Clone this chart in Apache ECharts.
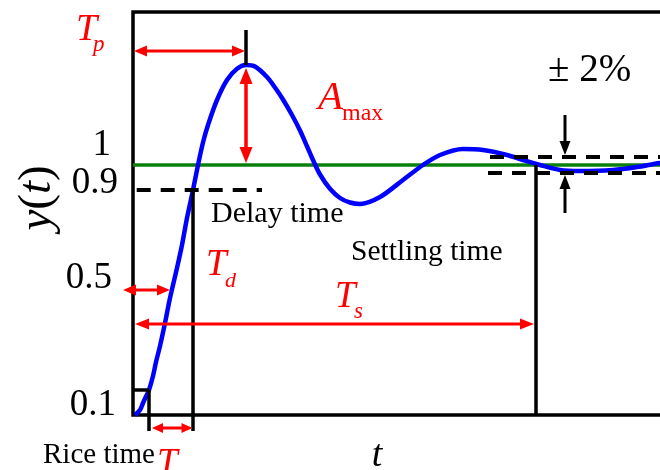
<!DOCTYPE html>
<html>
<head>
<meta charset="utf-8">
<script src="https://cdn.jsdelivr.net/npm/echarts@6/dist/echarts.min.js"></script>
<style>
  html, body { margin: 0; padding: 0; background: #fff; }
  #chart { width: 660px; height: 470px; }
</style>
</head>
<body>
<div id="chart"></div>
<script>
// Step response y(t) of an under-damped second order system
const timePoints = [0.2, 0.7, 1.0, 1.3, 1.6, 2.0, 2.3, 2.7, 3.2, 3.7, 4.4, 4.9, 5.4, 6.0, 6.5, 7.0, 7.5, 8.4, 9.4, 10.4, 11.3, 12.2, 13.4, 14.2, 15.0, 15.9, 16.7, 17.4, 18.0, 18.7, 19.7, 20.7, 21.7, 22.7, 24.7, 27.0, 29.0, 30.7, 33.0, 35.0, 37.4, 39.0, 40.7, 42.7, 44.7, 48.0, 50.4, 52.7, 55.0];
const responseValues = [0, 0.02, 0.048, 0.074, 0.10, 0.156, 0.212, 0.276, 0.368, 0.468, 0.588, 0.68, 0.788, 0.90, 1.00, 1.09, 1.16, 1.26, 1.34, 1.385, 1.40, 1.394, 1.352, 1.31, 1.262, 1.20, 1.138, 1.075, 1.02, 0.962, 0.905, 0.868, 0.85, 0.844, 0.872, 0.94, 1.00, 1.04, 1.064, 1.06, 1.04, 1.02, 1.00, 0.98, 0.976, 0.98, 0.992, 1.008, 1.016];

// y-axis reference levels and their labels
const levelValues = [1, 0.9, 0.5, 0.1];
const levelLabels = ['1', '0.9', '0.5', '0.1'];

// characteristic times and levels
const steadyValue = 1;
const riseStartTime = 1.6;
const delayTime = 6.0;
const peakTime = 11.3;
const peakValue = 1.40;
const settlingTime = 40.3;
const bandUpper = 1.032;
const bandLower = 0.968;

const tMax = 55;
const yMax = 1.612;

const RED = '#ff0000';
const BLACK = '#000000';
const SERIF = '"Liberation Serif", "Times New Roman", serif';

// label nudges (px) for the level labels, right-aligned
const levelLabelNudge = [[-22, -20], [-15, -7], [-21, -12], [-17, 15]];

function seg(a, b, color, width, dash) {
  return {
    type: 'line',
    shape: { x1: a[0], y1: a[1], x2: b[0], y2: b[1] },
    style: { stroke: color, lineWidth: width, lineDash: dash || null, lineCap: 'butt' }
  };
}

function head(tip, from, len, half, color) {
  const dx = tip[0] - from[0], dy = tip[1] - from[1];
  const d = Math.hypot(dx, dy) || 1;
  const ux = dx / d, uy = dy / d;
  const bx = tip[0] - ux * len, by = tip[1] - uy * len;
  return {
    type: 'polygon',
    shape: { points: [tip, [bx - uy * half, by + ux * half], [bx + uy * half, by - ux * half]] },
    style: { fill: color, stroke: null }
  };
}

// arrow from a to b; both = heads at both ends
function arrow(a, b, both, color, width, len, half) {
  const dx = b[0] - a[0], dy = b[1] - a[1];
  const d = Math.hypot(dx, dy) || 1;
  const ux = dx / d, uy = dy / d;
  const s = both ? [a[0] + ux * (len - 1), a[1] + uy * (len - 1)] : a;
  const e = [b[0] - ux * (len - 1), b[1] - uy * (len - 1)];
  const kids = [seg(s, e, color, width), head(b, a, len, half, color)];
  if (both) kids.push(head(a, b, len, half, color));
  return kids;
}

function txt(x, y, text, size, color, opts) {
  opts = opts || {};
  return {
    type: 'text',
    x: x, y: y,
    style: {
      text: text,
      fill: color,
      font: (opts.italic ? 'italic ' : '') + size + 'px ' + SERIF,
      align: opts.align || 'left',
      verticalAlign: 'middle'
    }
  };
}

const chart = echarts.init(document.getElementById('chart'), null, { renderer: 'canvas' });

const option = {
  backgroundColor: '#ffffff',
  animation: false,
  grid: {
    left: 133, top: 12, width: 550, bottom: 55,
    outerBoundsMode: 'none',
    show: true, borderColor: BLACK, borderWidth: 3.5, backgroundColor: 'transparent'
  },
  xAxis: { type: 'value', min: 0, max: tMax, show: false },
  yAxis: { type: 'value', min: 0, max: yMax, show: false },
  series: [
    {
      // steady-state level
      type: 'custom',
      z: 1,
      clip: false,
      silent: true,
      data: [[0, 0]],
      renderItem: function (params, api) {
        return {
          type: 'group',
          children: [seg(api.coord([0, steadyValue]), api.coord([tMax, steadyValue]), '#0a800a', 3.5)]
        };
      }
    },
    {
      type: 'line',
      z: 2,
      data: timePoints.map((t, i) => [t, responseValues[i]]),
      smooth: 0.3,
      showSymbol: false,
      silent: true,
      lineStyle: { color: '#0000ff', width: 4.5 }
    },
    {
      // annotations: reference lines, arrows and labels
      type: 'custom',
      z: 3,
      clip: false,
      silent: true,
      data: [[0, 0]],
      renderItem: function (params, api) {
        const c = (t, v) => api.coord([t, v]);
        const kids = [];
        const dash = [14, 10];

        // 0.9 reference (dashed) and ±2% band
        kids.push(seg(c(0.37, levelValues[1]), c(12.9, levelValues[1]), BLACK, 4, dash));
        kids.push(seg(c(35.7, bandUpper), c(tMax, bandUpper), BLACK, 4, dash));
        kids.push(seg(c(35.5, bandLower), c(tMax, bandLower), BLACK, 4, dash));

        // time markers
        kids.push(seg(c(0, levelValues[3]), c(riseStartTime, levelValues[3]), BLACK, 3.5));
        kids.push(seg(c(riseStartTime, levelValues[3]), c(riseStartTime, -0.064), BLACK, 3.5));
        kids.push(seg(c(delayTime, levelValues[1]), c(delayTime, -0.064), BLACK, 3.5));
        kids.push(seg(c(peakTime, peakValue), c(peakTime, 1.54), BLACK, 3.5));
        kids.push(seg(c(settlingTime, steadyValue), c(settlingTime, 0), BLACK, 3.5));

        // red dimension arrows
        kids.push(...arrow(c(0.1, 1.456), c(peakTime - 0.1, 1.456), true, RED, 3, 13, 5.5));
        kids.push(...arrow(c(peakTime, peakValue - 0.012), c(peakTime, steadyValue + 0.008), true, RED, 3.5, 16, 6.5));
        kids.push(...arrow(c(-1.0, levelValues[2]), c(3.7, levelValues[2]), true, RED, 3, 13, 5.5));
        kids.push(...arrow(c(0.2, 0.364), c(settlingTime - 0.2, 0.364), true, RED, 3, 14, 5.5));
        kids.push(...arrow(c(riseStartTime + 0.3, -0.052), c(delayTime - 0.05, -0.052), true, RED, 3, 11, 5));

        // ±2% pointers
        kids.push(...arrow(c(43.2, 1.2), c(43.2, bandUpper + 0.008), false, BLACK, 3, 14, 5.5));
        kids.push(...arrow(c(43.2, 0.808), c(43.2, bandLower - 0.008), false, BLACK, 3, 14, 5.5));

        // level labels
        levelValues.forEach((v, i) => {
          const p = c(0, v);
          kids.push(txt(p[0] + levelLabelNudge[i][0], p[1] + levelLabelNudge[i][1], levelLabels[i], 37, BLACK, { align: 'right' }));
        });

        return { type: 'group', children: kids };
      }
    }
  ],
  graphic: [
    // axis titles
    {
      type: 'text', x: 38, y: 198, rotation: Math.PI / 2,
      style: {
        text: '{i|y}{n|(}{i|t}{n|)}', align: 'center', verticalAlign: 'middle', fill: BLACK,
        rich: {
          i: { font: 'italic 47px ' + SERIF, fill: BLACK },
          n: { font: '47px ' + SERIF, fill: BLACK }
        }
      }
    },
    { type: 'text', x: 377, y: 456, style: { text: 't', font: 'italic 38px ' + SERIF, fill: BLACK, align: 'center', verticalAlign: 'middle' } },

    // text notes
    { type: 'text', x: 43, y: 455, style: { text: 'Rice time', font: '29px ' + SERIF, fill: BLACK, verticalAlign: 'middle' } },
    { type: 'text', x: 157, y: 464, style: { text: 'T', font: 'italic 37px ' + SERIF, fill: RED, verticalAlign: 'middle' } },
    { type: 'text', x: 211, y: 214, style: { text: 'Delay time', font: '30px ' + SERIF, fill: BLACK, verticalAlign: 'middle' } },
    { type: 'text', x: 351, y: 252, style: { text: 'Settling time', font: '29.5px ' + SERIF, fill: BLACK, verticalAlign: 'middle' } },
    { type: 'text', x: 548, y: 71, style: { text: '± 2%', font: '39px ' + SERIF, fill: BLACK, verticalAlign: 'middle' } },

    // Tp
    { type: 'text', x: 76, y: 30, style: { text: 'T', font: 'italic 38px ' + SERIF, fill: RED, verticalAlign: 'middle' } },
    { type: 'text', x: 93, y: 45, style: { text: 'p', font: 'italic 23px ' + SERIF, fill: RED, verticalAlign: 'middle' } },
    // Amax
    { type: 'text', x: 318, y: 98, style: { text: 'A', font: 'italic 41px ' + SERIF, fill: RED, verticalAlign: 'middle' } },
    { type: 'text', x: 342, y: 114, style: { text: 'max', font: '24px ' + SERIF, fill: RED, verticalAlign: 'middle' } },
    // Td
    { type: 'text', x: 206, y: 265, style: { text: 'T', font: 'italic 37px ' + SERIF, fill: RED, verticalAlign: 'middle' } },
    { type: 'text', x: 225, y: 281, style: { text: 'd', font: 'italic 22px ' + SERIF, fill: RED, verticalAlign: 'middle' } },
    // Ts
    { type: 'text', x: 335, y: 297, style: { text: 'T', font: 'italic 37px ' + SERIF, fill: RED, verticalAlign: 'middle' } },
    { type: 'text', x: 354, y: 312, style: { text: 's', font: 'italic 23px ' + SERIF, fill: RED, verticalAlign: 'middle' } }
  ]
};

chart.setOption(option);
</script>
</body>
</html>
